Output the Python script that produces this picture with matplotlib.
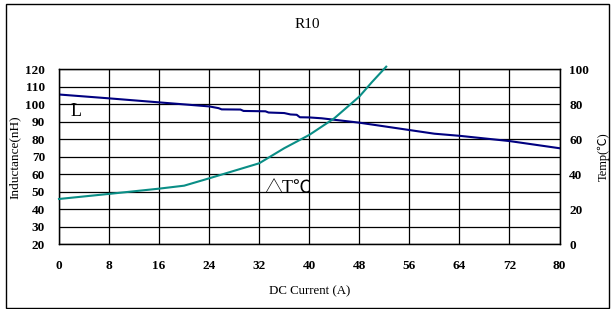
import matplotlib.pyplot as plt
from matplotlib.patches import Rectangle

# inductance curve (nH) vs DC current (A)
l_current = [0, 8, 16, 24, 25.5, 26, 29, 29.5, 33, 33.5, 36, 37, 38, 38.5, 40, 42, 48, 56, 60, 64, 72, 80]
l_values = [105.6, 103.4, 101.1, 98.8, 97.8, 97.1, 97.0, 96.2, 96.0, 95.3, 95.0, 94.2, 94.0, 92.6, 92.5, 92.0, 89.5, 85.3, 83.2, 82.0, 79.0, 74.9]

# temperature rise curve (degC) vs DC current (A)
t_current = [0, 8, 16, 20, 24, 28, 32, 36, 40, 44, 48, 50, 52.3]
t_values = [25.9, 28.8, 31.8, 33.5, 37.7, 42.0, 46.3, 54.9, 62.5, 72.0, 84.4, 92.6, 101.5]

x_ticks = [0, 8, 16, 24, 32, 40, 48, 56, 64, 72, 80]
l_ticks = [20, 30, 40, 50, 60, 70, 80, 90, 100, 110, 120]
t_ticks = [0, 20, 40, 60, 80, 100]

serif = "Liberation Serif"
plt.rcParams["font.family"] = serif
mixed = [serif, "Noto Sans CJK SC", "DejaVu Sans"]

fig = plt.figure(figsize=(6.14, 3.09), dpi=100)
fig.patches.append(Rectangle((5.5 / 614, 1.5 / 309), 603 / 614, 304 / 309,
                             transform=fig.transFigure, fill=False,
                             edgecolor="black", linewidth=1.0))

ax = fig.add_axes([59 / 614, 1 - 244.3 / 309, 500.5 / 614, 175 / 309])
ax.set_xlim(0, 80)
ax.set_ylim(20, 120)
ax.set_xticks(x_ticks)
ax.set_yticks(l_ticks)
ax.grid(True, color="black", linewidth=0.9)
ax.tick_params(length=0, labelsize=9.5, pad=10)
ax.tick_params(axis="x", pad=11)
for lab in ax.get_xticklabels() + ax.get_yticklabels():
    lab.set_fontweight("bold")
for s in ax.spines.values():
    s.set_linewidth(1.0)

ax.plot(l_current, l_values, color="#000080", linewidth=1.5, zorder=3)
ax.set_ylabel("Inductance(nH)", fontsize=9.5, labelpad=3)
ax.set_xlabel("DC Current (A)", fontsize=9.3, labelpad=10)

ax.text(1.8, 93.5, "L", fontsize=13)
ax.text(32.8, 49.5, "△T℃", fontsize=13, family=mixed)

ax2 = ax.twinx()
ax2.set_ylim(0, 100)
ax2.set_yticks(t_ticks)
ax2.tick_params(length=0, labelsize=9.5, pad=7)
for lab in ax2.get_yticklabels():
    lab.set_fontweight("bold")
ax2.plot(t_current, t_values, color="#0A8E86", linewidth=1.5, clip_on=False, zorder=3)
ax2.set_ylabel("Temp(℃)", fontsize=9, labelpad=6, family=mixed)

fig.text(0.5, 1 - 25 / 309, "R10", ha="center", va="center", fontsize=11)

fig.savefig("out.png", dpi=100)
